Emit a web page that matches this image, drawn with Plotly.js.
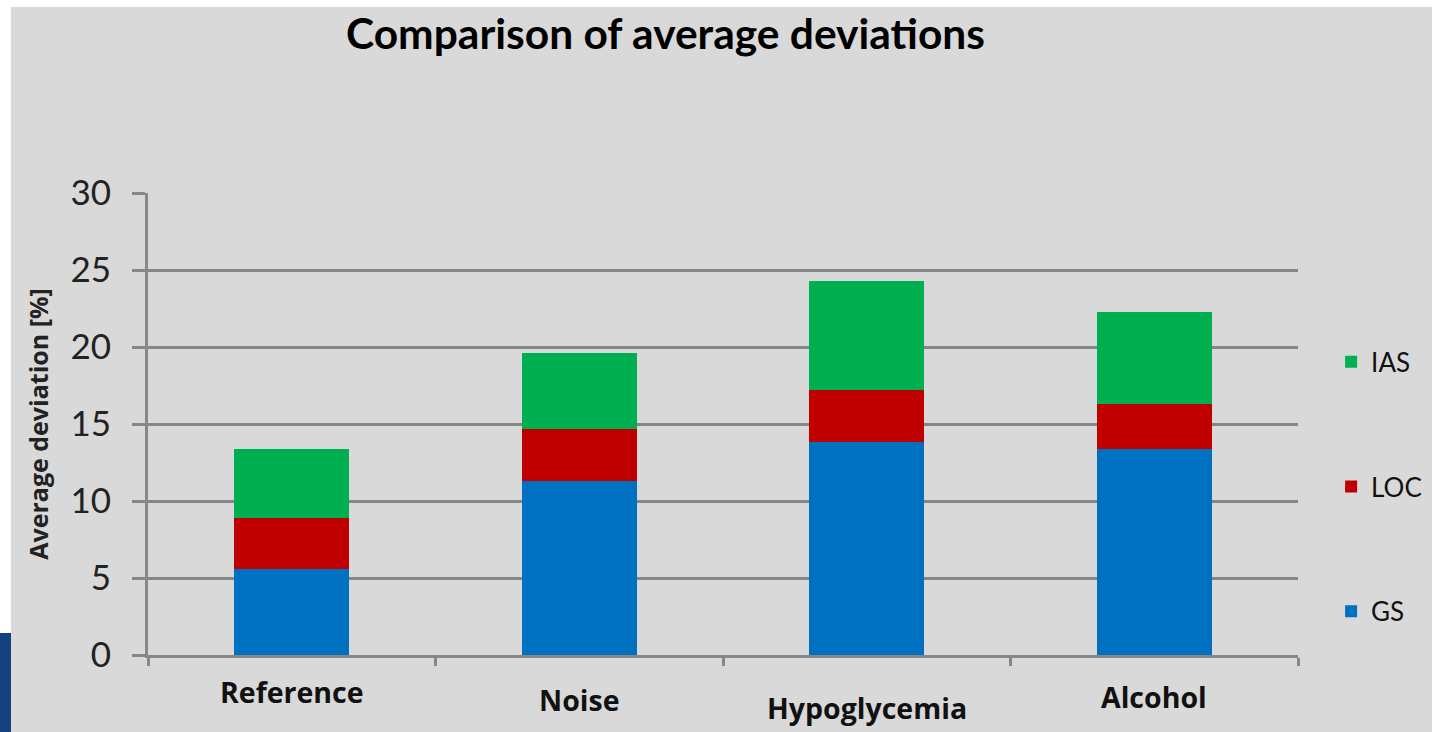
<!DOCTYPE html>
<html>
<head>
<meta charset="utf-8">
<script src="https://cdn.plot.ly/plotly-3.0.1.min.js"></script>
<style>
  html, body { margin: 0; padding: 0; background: #ffffff; width: 1432px; height: 732px; overflow: hidden; }
  #chart { position: absolute; left: 11px; top: 7px; width: 1421px; height: 725px; }
  #strip { position: absolute; left: 0; top: 633px; width: 11px; height: 99px; background: #17407f; }
</style>
</head>
<body>
<div id="strip"></div>
<div id="chart"></div>
<script>
const categories = ["Reference", "Noise", "Hypoglycemia", "Alcohol"];
const gsValues  = [5.6, 11.3, 13.8, 13.4];
const locValues = [3.3, 3.4, 3.4, 2.9];
const iasValues = [4.5, 4.9, 7.1, 6.0];
const yTicks = [0, 5, 10, 15, 20, 25, 30];
const labelShifts = [-37, -45, -53, -42];

const FONT = "Lato, 'Open Sans', sans-serif";
const FONT2 = "'Open Sans', Lato, sans-serif";
const GRID = "#878787";

const traces = [
  { type: "bar", name: "GS",  x: categories, y: gsValues,  marker: { color: "#0070C0" }, legendgroup: "g1", legendrank: 3 },
  { type: "bar", name: "LOC", x: categories, y: locValues, marker: { color: "#C00000" }, legendgroup: "g2", legendrank: 2 },
  { type: "bar", name: "IAS", x: categories, y: iasValues, marker: { color: "#00B050" }, legendgroup: "g3", legendrank: 1 }
];

const annotations = categories.map((c, i) => ({
  x: c, y: 0, xref: "x", yref: "y", text: c, showarrow: false,
  yanchor: "middle", yshift: labelShifts[i],
  font: { family: FONT2, size: 28.5, color: "#111111", weight: "bold" }
}));

const layout = {
  width: 1421, height: 725,
  paper_bgcolor: "#d9d9d9", plot_bgcolor: "#d9d9d9",
  margin: { l: 137, r: 134, t: 186, b: 77, autoexpand: false },
  barmode: "stack", bargap: 0.6,
  title: {
    text: "<b>Comparison of average deviations</b>",
    x: 0.450, xanchor: "center", xref: "paper",
    y: 0.962, yanchor: "middle", yref: "container",
    font: { family: FONT, size: 42.5, color: "#000000" }
  },
  xaxis: {
    type: "category", showticklabels: false,
    showline: true, linecolor: GRID, linewidth: 3,
    ticks: "outside", tickson: "boundaries", ticklen: 8, tickwidth: 3, tickcolor: GRID,
    showgrid: false, zeroline: false, fixedrange: true
  },
  yaxis: {
    range: [0, 30], tickvals: yTicks, ticktext: yTicks.map(String),
    showline: true, linecolor: GRID, linewidth: 3,
    ticks: "outside", ticklen: 13, tickwidth: 3, tickcolor: GRID,
    ticklabelstandoff: 14,
    showgrid: true, gridcolor: GRID, gridwidth: 3, zeroline: false,
    tickfont: { family: FONT, size: 35, color: "#222222" },
    title: { text: "<b>Average deviation [%]</b>", standoff: 15,
             font: { family: FONT2, size: 25, color: "#222222" } },
    fixedrange: true
  },
  legend: {
    xref: "container", yref: "container",
    x: 0.929, xanchor: "left", y: 0.543, yanchor: "top",
    traceorder: "grouped", tracegroupgap: 88,
    bgcolor: "rgba(0,0,0,0)",
    font: { family: FONT, size: 26, color: "#111111" }
  },
  annotations: annotations,
  showlegend: true
};

Plotly.newPlot("chart", traces, layout, { displayModeBar: false, staticPlot: true });
</script>
</body>
</html>
